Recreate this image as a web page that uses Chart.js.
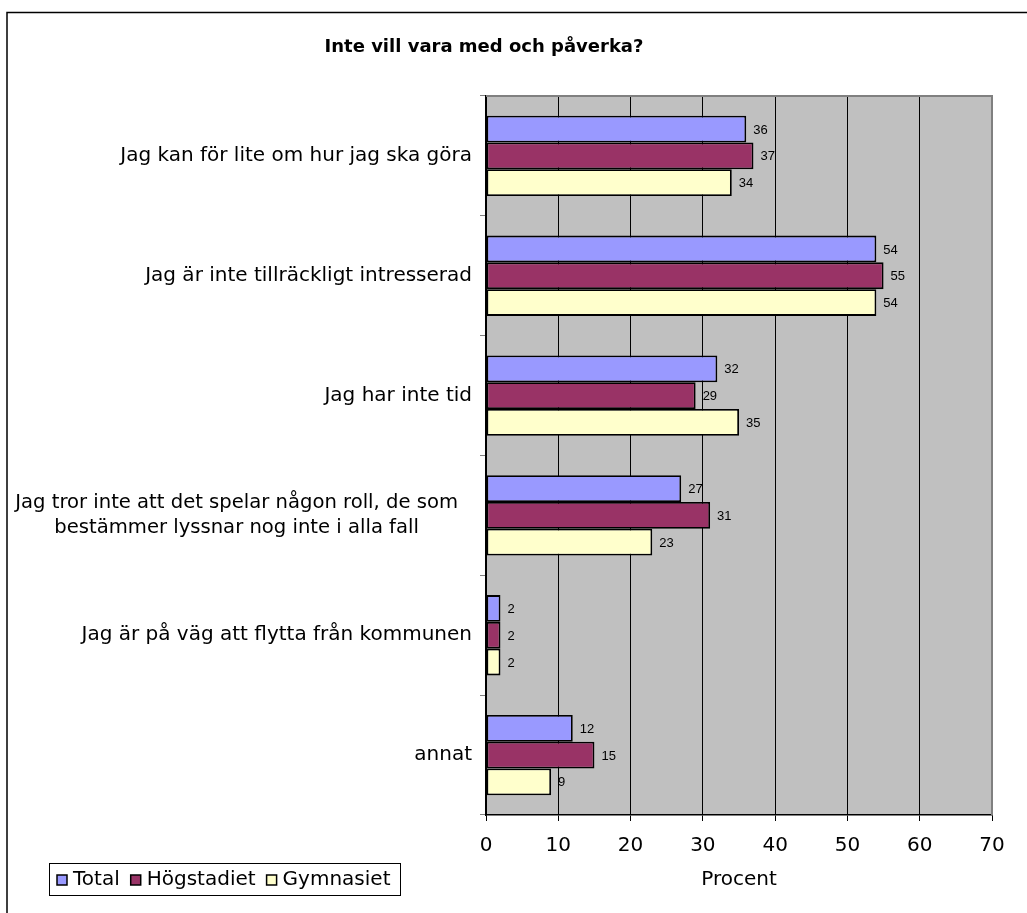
<!DOCTYPE html>
<html>
<head>
<meta charset="utf-8">
<script src="https://cdn.jsdelivr.net/npm/chart.js@4.4.1/dist/chart.umd.min.js"></script>
<style>
html,body{margin:0;padding:0;background:#fff;}
#wrap{width:1027px;height:913px;position:relative;}
</style>
</head>
<body>
<div id="wrap"><canvas id="c" width="1027" height="913"></canvas></div>
<script>
const chartTitle = 'Inte vill vara med och påverka?';
const categories = [
  ['Jag kan för lite om hur jag ska göra'],
  ['Jag är inte tillräckligt intresserad'],
  ['Jag har inte tid'],
  ['Jag tror inte att det spelar någon roll, de som', 'bestämmer lyssnar nog inte i alla fall'],
  ['Jag är på väg att flytta från kommunen'],
  ['annat']
];
const seriesNames = ['Total', 'Högstadiet', 'Gymnasiet'];
const seriesColors = ['#9999FF', '#993366', '#FFFFCC'];
const totalValues = [36, 54, 32, 27, 2, 12];
const hogstadietValues = [37, 55, 29, 31, 2, 15];
const gymnasietValues = [34, 54, 35, 23, 2, 9];
const xTicks = [0, 10, 20, 30, 40, 50, 60, 70];
const xTitle = 'Procent';

const FONT = '"DejaVu Sans", Verdana, sans-serif';
const LABEL_FONT = '"Liberation Sans", Arial, sans-serif';

const customPlugin = {
  id: 'custom',
  beforeDraw(chart) {
    const ctx = chart.ctx, a = chart.chartArea;
    ctx.save();
    ctx.fillStyle = '#fff';
    ctx.fillRect(0, 0, chart.width, chart.height);
    ctx.strokeStyle = '#000';
    ctx.lineWidth = 1.5;
    ctx.beginPath();
    ctx.moveTo(7, chart.height);
    ctx.lineTo(7, 12.5);
    ctx.lineTo(chart.width, 12.5);
    ctx.stroke();
    ctx.fillStyle = '#C0C0C0';
    ctx.fillRect(a.left, a.top, a.right - a.left, a.bottom - a.top);
    ctx.restore();
  },
  afterDatasetsDraw(chart) {
    const ctx = chart.ctx;
    ctx.save();
    ctx.font = '13px ' + LABEL_FONT;
    ctx.fillStyle = '#000';
    ctx.textAlign = 'left';
    ctx.textBaseline = 'middle';
    chart.data.datasets.forEach((ds, di) => {
      const meta = chart.getDatasetMeta(di);
      meta.data.forEach((bar, i) => {
        ctx.fillText(String(ds.data[i]), bar.x + 7, bar.y + 1);
      });
    });
    ctx.restore();
  },
  afterDraw(chart) {
    const ctx = chart.ctx, a = chart.chartArea;
    const yScale = chart.scales.y;
    ctx.save();
    ctx.strokeStyle = '#808080';
    ctx.lineWidth = 2;
    ctx.beginPath();
    ctx.moveTo(a.left, a.top);
    ctx.lineTo(a.right, a.top);
    ctx.lineTo(a.right, a.bottom);
    ctx.stroke();
    ctx.fillStyle = '#000';
    ctx.font = 'bold 18px ' + FONT;
    ctx.textAlign = 'center';
    ctx.textBaseline = 'middle';
    ctx.fillText(chartTitle, 484, 47);
    categories.forEach((lines, i) => {
      const yc = yScale.getPixelForValue(i);
      const lh = 25;
      if (lines.length === 1) {
        ctx.font = '20px ' + FONT;
        ctx.textAlign = 'right';
        ctx.fillText(lines[0], a.left - 14, yc);
      } else {
        ctx.font = '19.6px ' + FONT;
        const w = Math.max(...lines.map(l => ctx.measureText(l).width));
        const cx = a.left - 28 - w / 2;
        ctx.textAlign = 'center';
        lines.forEach((l, k) => {
          ctx.fillText(l, cx, yc + (k - (lines.length - 1) / 2) * lh);
        });
      }
    });
    const lx = 49, ly = 863, lw = 351, lhgt = 32;
    ctx.strokeStyle = '#000';
    ctx.lineWidth = 1;
    ctx.strokeRect(lx + 0.5, ly + 0.5, lw, lhgt);
    ctx.font = '20px ' + FONT;
    ctx.textAlign = 'left';
    ctx.textBaseline = 'middle';
    let x = 57;
    const cy = ly + lhgt / 2 + 1;
    seriesNames.forEach((n, i) => {
      ctx.fillStyle = seriesColors[i];
      ctx.fillRect(x, cy - 5, 10, 10);
      ctx.strokeStyle = '#000';
      ctx.lineWidth = 1.5;
      ctx.strokeRect(x, cy - 5, 10, 10);
      ctx.fillStyle = '#000';
      ctx.fillText(n, x + 16, cy);
      x += 16 + ctx.measureText(n).width + 11;
    });
    ctx.restore();
  }
};

const chart = new Chart(document.getElementById('c'), {
  type: 'bar',
  data: {
    labels: categories,
    datasets: [
      { label: seriesNames[0], data: totalValues, backgroundColor: seriesColors[0] },
      { label: seriesNames[1], data: hogstadietValues, backgroundColor: seriesColors[1] },
      { label: seriesNames[2], data: gymnasietValues, backgroundColor: seriesColors[2] }
    ].map(d => Object.assign(d, {
      borderColor: '#000', borderWidth: 1.8, borderSkipped: false,
      barPercentage: 1.0, categoryPercentage: 0.67
    }))
  },
  options: {
    indexAxis: 'y',
    responsive: false,
    animation: false,
    events: [],
    layout: { padding: { top: 96, right: 35, left: 0, bottom: 0 } },
    plugins: { legend: { display: false }, title: { display: false }, tooltip: { enabled: false } },
    scales: {
      x: {
        min: 0, max: 70,
        afterBuildTicks(scale) { scale.ticks = xTicks.map(v => ({ value: v })); },
        afterFit(scale) { scale.height = 98; },
        grid: {
          color: c => (c.tick && c.tick.value === 70) ? '#808080' : '#000',
          lineWidth: 1,
          tickLength: 6,
          tickColor: '#000'
        },
        border: { color: '#000', width: 1.5 },
        ticks: { color: '#000', font: { family: FONT, size: 20 }, padding: 13, maxRotation: 0 },
        title: { display: true, text: xTitle, color: '#000', font: { family: FONT, size: 20 }, padding: { top: 4, bottom: 21 } }
      },
      y: {
        afterFit(scale) { scale.width = 486; },
        grid: { drawOnChartArea: false, tickLength: 6, color: '#808080', offset: true },
        border: { color: '#000', width: 1.5 },
        ticks: { display: false }
      }
    }
  },
  plugins: [customPlugin]
});
</script>
</body>
</html>
